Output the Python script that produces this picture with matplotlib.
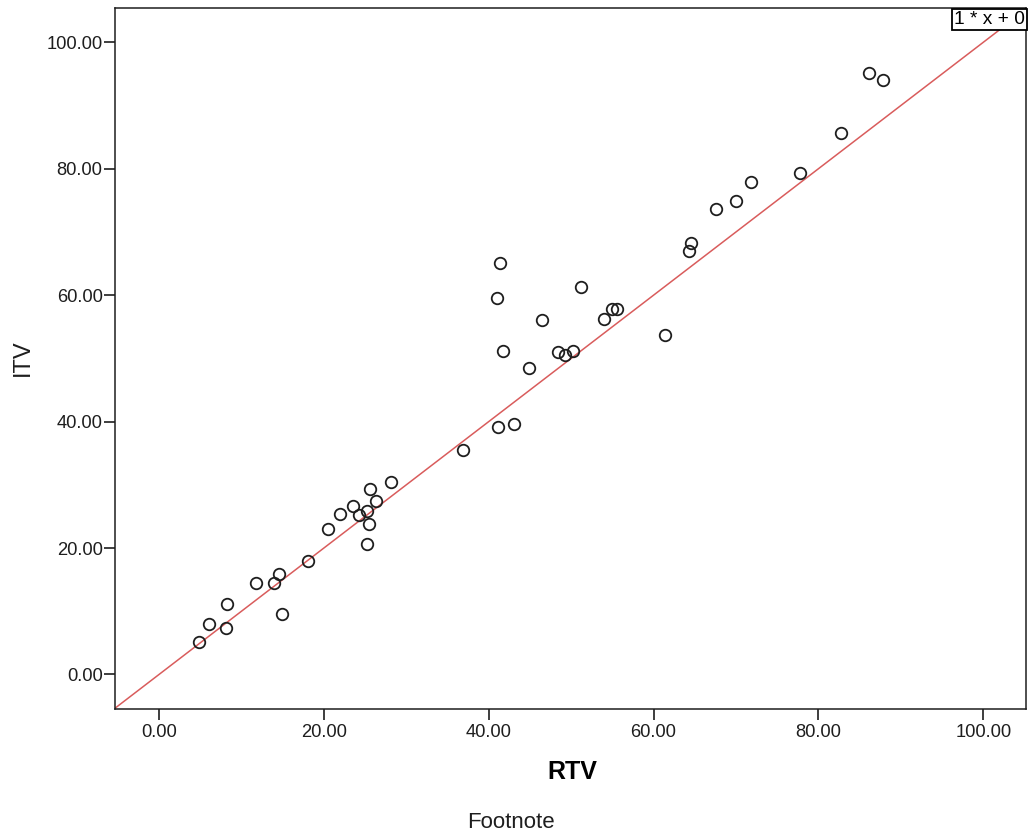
import matplotlib
matplotlib.use("Agg")
from matplotlib import pyplot as plt

plt.rcParams['font.family'] = ['Liberation Sans', 'DejaVu Sans']

# RTV / ITV pairs
rtv = [4.80, 6.09, 8.08, 8.28, 11.76, 13.95, 14.55, 14.95, 18.03, 20.52, 21.91, 23.51,
       24.3, 25.2, 25.6, 26.3, 25.5, 25.2, 28.18,
       36.94, 41.12, 43.01, 44.9, 41.72, 41.02, 41.42, 46.5, 48.39, 49.28, 50.28, 51.17,
       53.96, 54.95, 55.55, 61.42, 64.31, 64.51,
       67.59, 69.98, 71.87, 77.74, 82.72, 86.2, 87.79]
itv = [5.06, 8.05, 7.36, 11.14, 14.53, 14.43, 15.93, 9.55, 18.02, 23.01, 25.4, 26.6,
       25.2, 25.9, 29.29, 27.39, 23.8, 20.61, 30.38,
       35.57, 39.15, 39.55, 48.43, 51.22, 59.49, 65.07, 56.0, 51.02, 50.52, 51.22, 61.28,
       56.3, 57.8, 57.8, 53.71, 66.97, 68.26,
       73.65, 74.94, 77.93, 79.33, 85.61, 95.08, 94.08]
ticks = [0, 20, 40, 60, 80, 100]
tick_labels = ['0.00', '20.00', '40.00', '60.00', '80.00', '100.00']

fig = plt.figure(figsize=(10.28, 8.4), dpi=100, facecolor='white')
ax = fig.add_axes([0.1119, 0.156, 0.8862, 0.8342])

xlim = (-5.34, 105.2)
ylim = (-5.46, 105.4)
ax.plot([-6, 106], [-6, 106], color='#d95c5c', lw=1.1, zorder=1)
ax.plot(rtv, itv, 'o', mfc='none', mec='#1e1e1e', mew=1.3, ms=8.3, zorder=2)

ax.set_xlim(xlim)
ax.set_ylim(ylim)
ax.set_xticks(ticks)
ax.set_xticklabels(tick_labels)
ax.set_yticks(ticks)
ax.set_yticklabels(tick_labels)
ax.tick_params(direction='out', length=8, width=1.2, labelsize=13.2, colors='#1e1e1e')
ax.tick_params(axis='y', pad=1)
ax.tick_params(axis='x', pad=2.5)
for s in ax.spines.values():
    s.set_linewidth(1.1)
    s.set_color('#1e1e1e')

ax.set_xlabel('RTV', fontsize=18, fontweight='bold', va='center')
ax.xaxis.set_label_coords(0.5016, -0.0899)
ax.set_ylabel('ITV', fontsize=17, va='center', color='#1e1e1e')
ax.yaxis.set_label_coords(-0.101, 0.5007)

ax.text(0.9985, 0.996, '1 * x + 0', transform=ax.transAxes, ha='right', va='top',
        fontsize=13.8, bbox=dict(boxstyle='square,pad=0.12', fc='white', ec='black', lw=1.3))

fig.text(0.497, 0.0214, 'Footnote', ha='center', va='center', fontsize=16, color='#1e1e1e')

fig.savefig('out.png', dpi=100)
